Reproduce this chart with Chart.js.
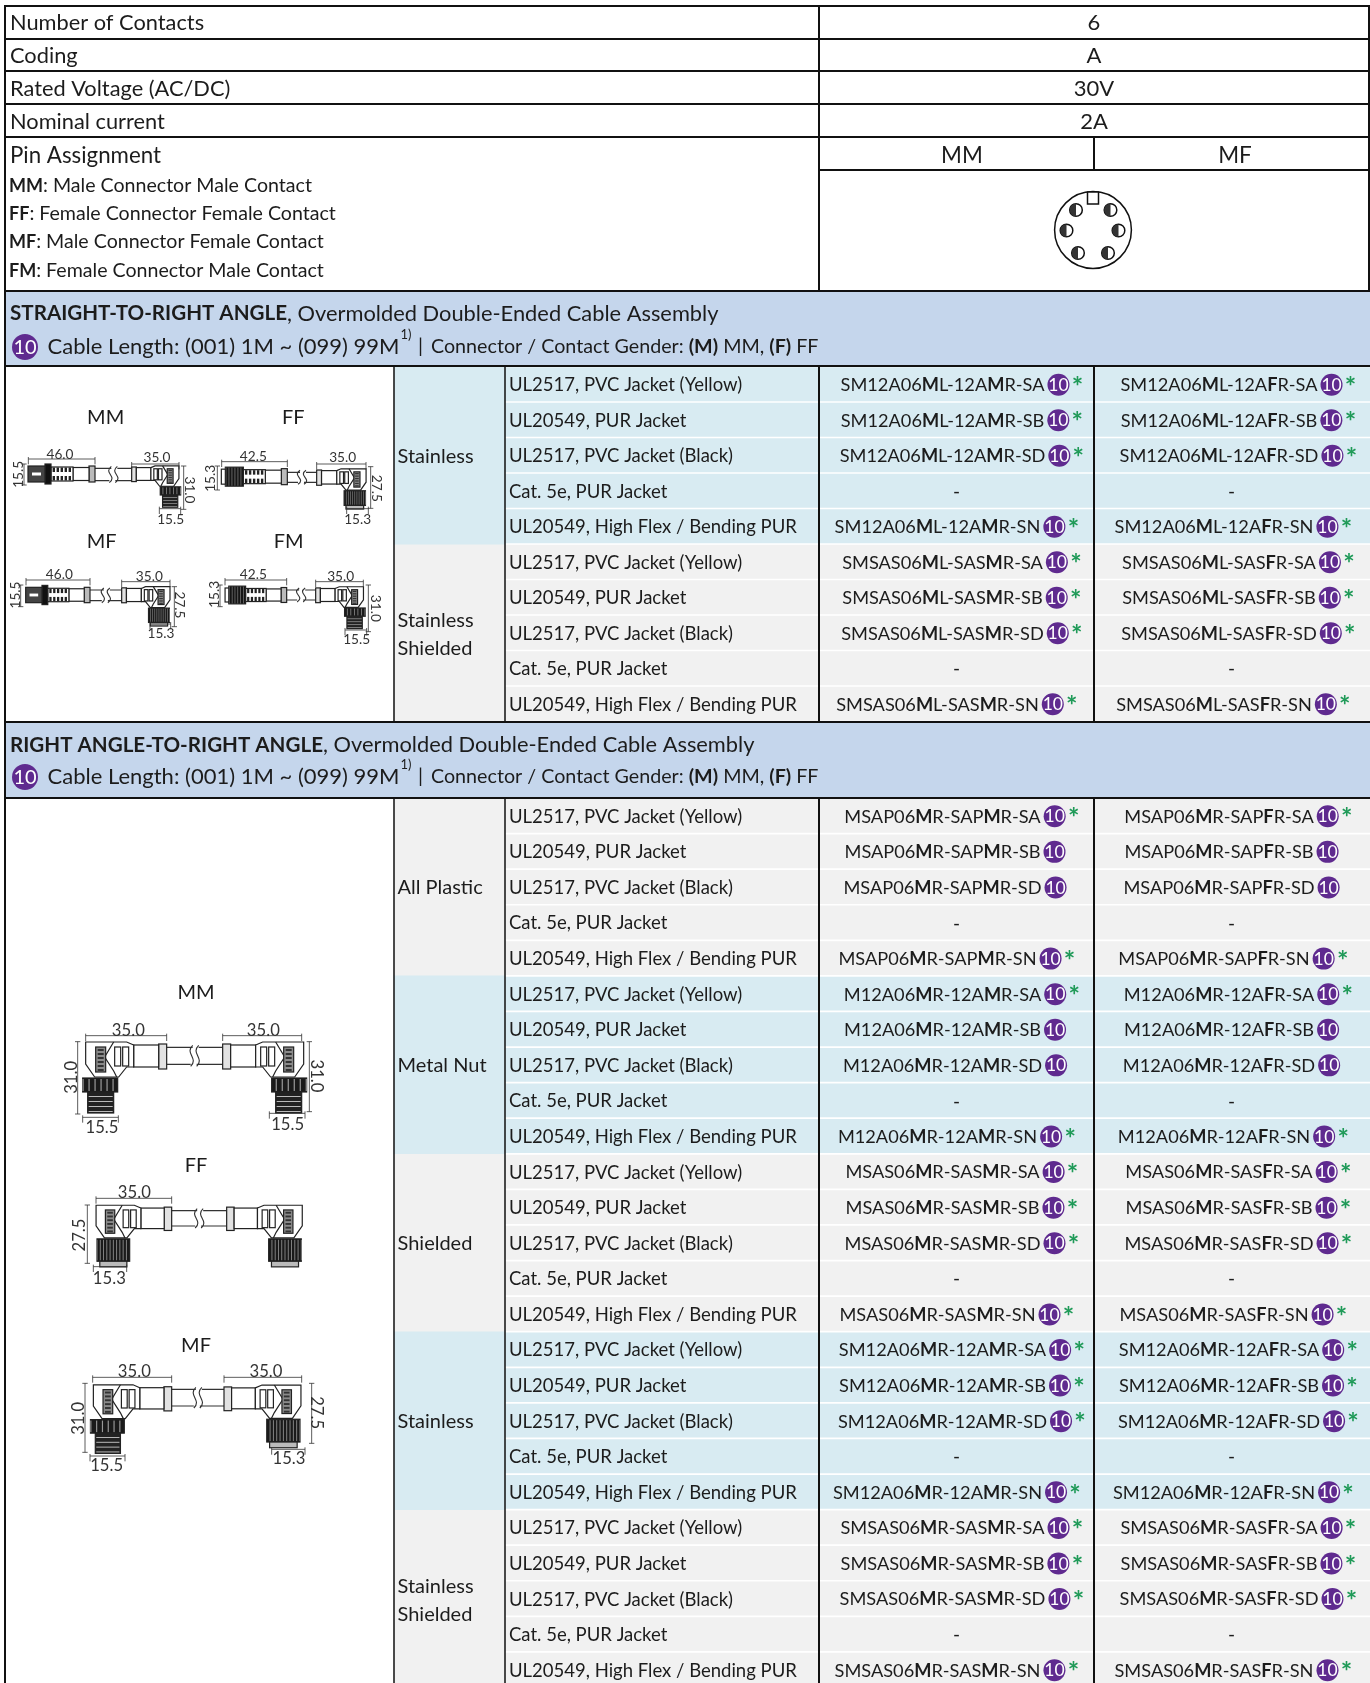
<!DOCTYPE html>
<html>
<head>
<meta charset="utf-8">
<title>Cable assembly table</title>
<script src="https://cdn.jsdelivr.net/npm/chart.js@4"></script>
<style>
html, body { margin: 0; padding: 0; background: #fff; }
canvas { display: block; }
</style>
</head>
<body>
<canvas id="tableChart" width="1370" height="1683"></canvas>
<script>
// table content, [x] marks bold, trailing * marks the green asterisk
const topLabels = ["Number of Contacts", "Coding", "Rated Voltage (AC/DC)", "Nominal current"];
const topValues = ["6", "A", "30V", "2A"];
const pinTitle = "Pin Assignment";
const pinColumns = ["MM", "MF"];
const genderLegend = [
    "[MM]: Male Connector Male Contact",
    "[FF]: Female Connector Female Contact",
    "[MF]: Male Connector Female Contact",
    "[FM]: Female Connector Male Contact"
];
const sectionTitles = [
    "[STRAIGHT-TO-RIGHT ANGLE], Overmolded Double-Ended Cable Assembly",
    "[RIGHT ANGLE-TO-RIGHT ANGLE], Overmolded Double-Ended Cable Assembly"
];
const cableNote = "Cable Length: (001) 1M ~ (099) 99M";
const genderNote = "Connector / Contact Gender: [(M)] MM, [(F)] FF";
const cableTypes = [
    "UL2517, PVC Jacket (Yellow)",
    "UL20549, PUR Jacket",
    "UL2517, PVC Jacket (Black)",
    "Cat. 5e, PUR Jacket",
    "UL20549, High Flex / Bending PUR"
];
const groupNames = [
    ["Stainless"], ["Stainless", "Shielded"],
    ["All Plastic"], ["Metal Nut"], ["Shielded"], ["Stainless"], ["Stainless", "Shielded"]
];
const codesMM = [
    "SM12A06[M]L-12A[M]R-SA*", "SM12A06[M]L-12A[M]R-SB*", "SM12A06[M]L-12A[M]R-SD*", "-", "SM12A06[M]L-12A[M]R-SN*",
    "SMSAS06[M]L-SAS[M]R-SA*", "SMSAS06[M]L-SAS[M]R-SB*", "SMSAS06[M]L-SAS[M]R-SD*", "-", "SMSAS06[M]L-SAS[M]R-SN*",
    "MSAP06[M]R-SAP[M]R-SA*", "MSAP06[M]R-SAP[M]R-SB", "MSAP06[M]R-SAP[M]R-SD", "-", "MSAP06[M]R-SAP[M]R-SN*",
    "M12A06[M]R-12A[M]R-SA*", "M12A06[M]R-12A[M]R-SB", "M12A06[M]R-12A[M]R-SD", "-", "M12A06[M]R-12A[M]R-SN*",
    "MSAS06[M]R-SAS[M]R-SA*", "MSAS06[M]R-SAS[M]R-SB*", "MSAS06[M]R-SAS[M]R-SD*", "-", "MSAS06[M]R-SAS[M]R-SN*",
    "SM12A06[M]R-12A[M]R-SA*", "SM12A06[M]R-12A[M]R-SB*", "SM12A06[M]R-12A[M]R-SD*", "-", "SM12A06[M]R-12A[M]R-SN*",
    "SMSAS06[M]R-SAS[M]R-SA*", "SMSAS06[M]R-SAS[M]R-SB*", "SMSAS06[M]R-SAS[M]R-SD*", "-", "SMSAS06[M]R-SAS[M]R-SN*"
];
const codesMF = [
    "SM12A06[M]L-12A[F]R-SA*", "SM12A06[M]L-12A[F]R-SB*", "SM12A06[M]L-12A[F]R-SD*", "-", "SM12A06[M]L-12A[F]R-SN*",
    "SMSAS06[M]L-SAS[F]R-SA*", "SMSAS06[M]L-SAS[F]R-SB*", "SMSAS06[M]L-SAS[F]R-SD*", "-", "SMSAS06[M]L-SAS[F]R-SN*",
    "MSAP06[M]R-SAP[F]R-SA*", "MSAP06[M]R-SAP[F]R-SB", "MSAP06[M]R-SAP[F]R-SD", "-", "MSAP06[M]R-SAP[F]R-SN*",
    "M12A06[M]R-12A[F]R-SA*", "M12A06[M]R-12A[F]R-SB", "M12A06[M]R-12A[F]R-SD", "-", "M12A06[M]R-12A[F]R-SN*",
    "MSAS06[M]R-SAS[F]R-SA*", "MSAS06[M]R-SAS[F]R-SB*", "MSAS06[M]R-SAS[F]R-SD*", "-", "MSAS06[M]R-SAS[F]R-SN*",
    "SM12A06[M]R-12A[F]R-SA*", "SM12A06[M]R-12A[F]R-SB*", "SM12A06[M]R-12A[F]R-SD*", "-", "SM12A06[M]R-12A[F]R-SN*",
    "SMSAS06[M]R-SAS[F]R-SA*", "SMSAS06[M]R-SAS[F]R-SB*", "SMSAS06[M]R-SAS[F]R-SD*", "-", "SMSAS06[M]R-SAS[F]R-SN*"
];

// layout, in scale units (one unit is one pixel here)
const ROW_H = 35.5, ROW_H2 = 35.58;
const SEC1_TOP = 366.5, SEC2_TOP = 798;
const COL = { left: 5, mat: 394, type: 505, mm: 819, mf: 1094, right: 1369 };
const topRowY = [23, 56, 89, 122];
const legendY = [186, 214, 242, 271];
const FONT = "Lato, Carlito, sans-serif";
const INK = "#1c1c1c";
const PURPLE = "#5f2a8f";
const GREEN = "#1f9a58";

function rowY(i) {
    return i < 10 ? SEC1_TOP + ROW_H * (i + 0.5) : SEC2_TOP + ROW_H2 * (i - 10 + 0.5);
}
function groupY(g) {
    return g < 2 ? SEC1_TOP + ROW_H * 5 * (g + 0.5) : SEC2_TOP + ROW_H2 * 5 * (g - 2 + 0.5);
}
// group backgrounds alternate: blue, gray / gray, blue, gray, blue, gray
const isBlueGroup = g => g === 0 || g === 3 || g === 5;

const blueRows = [], grayRows = [], blueGroups = [], grayGroups = [];
for (let i = 0; i < codesMM.length; i++) {
    const g = Math.floor(i / 5);
    (isBlueGroup(g) ? blueRows : grayRows).push({ x: [COL.type, COL.right + 1], y: rowY(i) });
}
groupNames.forEach((n, g) => {
    (isBlueGroup(g) ? blueGroups : grayGroups).push({ x: [COL.mat, COL.type], y: groupY(g) });
});

function segments(list) {
    const pts = [];
    list.forEach(s => {
        pts.push({ x: s[0], y: s[1] }, { x: s[2], y: s[3] }, { x: null, y: null });
    });
    return pts;
}
const heavyLines = segments([
    [COL.left, 6, COL.right, 6], [COL.left, 39, COL.right, 39], [COL.left, 71, COL.right, 71],
    [COL.left, 104, COL.right, 104], [COL.left, 137, COL.right, 137], [COL.mm, 170, COL.right, 170],
    [COL.left, 291, 1370, 291], [COL.left, 366, 1370, 366], [COL.left, 722, 1370, 722], [COL.left, 798, 1370, 798],
    [COL.left, 5, COL.left, 1683], [COL.right, 5, COL.right, 291], [COL.mm, 6, COL.mm, 291], [COL.mf, 137, COL.mf, 170],
    [COL.mm, 366, COL.mm, 722], [COL.mf, 366, COL.mf, 722], [COL.mm, 798, COL.mm, 1683], [COL.mf, 798, COL.mf, 1683]
]);
const thinLines = segments([
    [COL.mat, 366, COL.mat, 722], [COL.type, 366, COL.type, 722],
    [COL.mat, 798, COL.mat, 1683], [COL.type, 798, COL.type, 1683]
]);

// text helpers, bold runs can have their own size since Lato bold runs wide here
function richParts(str) {
    return str.split(/(\[.*?\])/).filter(Boolean).map(p =>
        p[0] === "[" ? { t: p.slice(1, -1), bold: true } : { t: p, bold: false });
}
function richWidth(c, str, size) {
    let w = 0;
    richParts(str).forEach(p => {
        c.font = (p.bold ? "bold " : "") + size + "px " + FONT;
        w += c.measureText(p.t).width;
    });
    return w;
}
function rich(c, str, x, y, size, boldSize) {
    c.textAlign = "left";
    c.textBaseline = "middle";
    c.fillStyle = INK;
    richParts(str).forEach(p => {
        c.font = p.bold ? "bold " + (boldSize || size) + "px " + FONT : size + "px " + FONT;
        c.fillText(p.t, x, y);
        x += c.measureText(p.t).width;
    });
    return x;
}
function centered(c, str, x, y, size) {
    c.font = size + "px " + FONT;
    c.textAlign = "center";
    c.textBaseline = "middle";
    c.fillStyle = INK;
    c.fillText(str, x, y);
}
function badge(c, x, y, r, size) {
    c.fillStyle = PURPLE;
    c.beginPath();
    c.arc(x, y, r, 0, Math.PI * 2);
    c.fill();
    c.font = size + "px " + FONT;
    c.textAlign = "center";
    c.textBaseline = "middle";
    c.fillStyle = "#fff";
    c.fillText("10", x, y + 0.5);
}
function codeCell(c, code, cx, y, shift) {
    if (code === "-") {
        centered(c, "-", cx, y, 19);
        return;
    }
    const star = code.endsWith("*");
    const text = star ? code.slice(0, -1) : code;
    const w = richWidth(c, text, 18.2);
    const x0 = cx + shift - (w + 26) / 2;
    rich(c, text, x0, y, 18.2);
    badge(c, x0 + w + 14, y - 0.5, 11, 17.5);
    if (star) {
        c.font = "bold 27px " + FONT;
        c.textAlign = "center";
        c.fillStyle = GREEN;
        c.fillText("*", x0 + w + 33, y + 2);
    }
}

// connector sketches, local units are sketch units scaled by s
function box(c, x0, y0, x1, y1, fill) {
    c.fillStyle = fill || "#fff";
    c.fillRect(x0, y0, x1 - x0, y1 - y0);
    c.strokeRect(x0, y0, x1 - x0, y1 - y0);
}
function rightAngle(c, ox, oy, s, dir, male) {
    c.save();
    c.translate(ox, oy);
    c.scale(s * dir, s);
    c.strokeStyle = "#222";
    c.lineWidth = 3.6 / s;
    box(c, 0, -12, 8, 13, "#e2e2e2");
    box(c, 8, -11, 33, 11);
    c.beginPath();
    c.moveTo(33, -11); c.lineTo(40, -14); c.lineTo(81, -14); c.lineTo(81, 8);
    c.lineTo(72, 21); c.lineTo(48, 21); c.lineTo(40, 11); c.lineTo(33, 11);
    c.closePath();
    c.fillStyle = "#fff";
    c.fill();
    c.stroke();
    box(c, 38, -9, 44, 10);
    box(c, 46, -9, 52, 10);
    c.beginPath();
    c.moveTo(53, -14); c.lineTo(62, 1); c.lineTo(53, 15); c.lineTo(50, 21);
    c.stroke();
    box(c, 61, -9, 71, 16, "#8a8a8a");
    c.fillStyle = "#333";
    for (let v = -7; v < 15; v += 4) c.fillRect(63, v, 6, 2);
    if (male) {
        box(c, 49, 22, 84, 36, "#1a1a1a");
        c.fillStyle = "#999";
        for (let u = 53; u < 84; u += 6) c.fillRect(u, 23, 1.2, 12);
        box(c, 53, 36, 79, 57, "#222");
        c.fillStyle = "#ccc";
        for (let v = 40; v < 56; v += 5) c.fillRect(54, v, 24, 0.9);
    } else {
        box(c, 45, 22, 80, 46, "#1a1a1a");
        c.fillStyle = "#888";
        for (let u = 48; u < 80; u += 3.5) c.fillRect(u, 23, 1, 22);
        box(c, 48, 46, 77, 52, "#bbb");
    }
    c.restore();
}
function straight(c, ox, oy, s, male) {
    c.save();
    c.translate(ox, oy);
    c.scale(-s, s);
    c.strokeStyle = "#222";
    c.lineWidth = 3.6 / s;
    box(c, 0, -8, 6, 8, "#bbb");
    box(c, 6, -6.5, 22, 6.5);
    box(c, 22, -7, 44, 7);
    c.fillStyle = "#222";
    for (let u = 24; u < 42; u += 4) {
        c.fillRect(u, -6.5, 2.4, 4.5);
        c.fillRect(u, 2, 2.4, 4.5);
    }
    if (male) {
        box(c, 44, -10, 50, 10, "#111");
        box(c, 50, -8, 67, 8, "#444");
        c.fillStyle = "#fff";
        c.fillRect(54, -1.5, 9, 3);
    } else {
        box(c, 44, -9.5, 62, 9.5, "#151515");
        c.fillStyle = "#777";
        for (let u = 46; u < 62; u += 3) c.fillRect(u, -9, 0.8, 18);
        box(c, 62, -7.5, 66, 7.5);
    }
    c.restore();
}
function cable(c, x0, x1, y0, y1) {
    const m = (x0 + x1) / 2, h = y1 - y0;
    c.strokeStyle = "#333";
    c.lineWidth = 3.4;
    c.beginPath();
    c.moveTo(x0, y0); c.lineTo(m - 6, y0);
    c.moveTo(m + 12, y0); c.lineTo(x1, y0);
    c.moveTo(x0, y1); c.lineTo(m - 12, y1);
    c.moveTo(m + 6, y1); c.lineTo(x1, y1);
    // the break mark on the cable
    [-9, 9].forEach(d => {
        c.moveTo(m + d + 3, y0 - 6);
        c.bezierCurveTo(m + d - 22, y0 + h * 0.35, m + d + 22, y0 + h * 0.65, m + d - 3, y1 + 6);
    });
    c.stroke();
}
function dimH(c, x0, x1, y, label, size, lx, ly) {
    c.strokeStyle = "#333";
    c.lineWidth = 2.4;
    c.beginPath();
    c.moveTo(x0, y - 6); c.lineTo(x0, y + 16);
    c.moveTo(x1, y - 6); c.lineTo(x1, y + 16);
    c.moveTo(x0, y); c.lineTo(x1, y);
    c.stroke();
    c.font = size + "px " + FONT;
    c.textAlign = "center";
    c.textBaseline = "middle";
    c.fillStyle = "#333";
    c.fillText(label, lx, ly);
}
function dimV(c, x, y0, y1, label, size, lx, ly, rot) {
    c.strokeStyle = "#333";
    c.lineWidth = 2.4;
    c.beginPath();
    c.moveTo(x - 8, y0); c.lineTo(x + 8, y0);
    c.moveTo(x - 8, y1); c.lineTo(x + 8, y1);
    c.moveTo(x, y0); c.lineTo(x, y1);
    c.stroke();
    c.save();
    c.translate(lx, ly);
    c.rotate(rot * Math.PI / 2);
    c.font = size + "px " + FONT;
    c.textAlign = "center";
    c.textBaseline = "middle";
    c.fillStyle = "#333";
    c.fillText(label, 0, 0);
    c.restore();
}

function drawSketches(c) {
    // upper section, coordinates are 3x pixels
    c.save();
    c.translate(0, 360);
    c.scale(1 / 3, 1 / 3);
    centered(c, "MM", 317, 172, 60);
    centered(c, "FF", 880, 172, 60);
    centered(c, "MF", 305, 545, 60);
    centered(c, "FM", 866, 545, 60);

    cable(c, 285, 395, 325, 362);
    straight(c, 285, 342, 3, true);
    rightAngle(c, 395, 342, 1.75, 1, true);
    dimH(c, 85, 285, 297, "46.0", 41, 180, 284);
    dimV(c, 72, 312, 375, "15.5", 41, 55, 343, -1);
    dimH(c, 395, 537, 312, "35.0", 41, 471, 293);
    dimV(c, 551, 318, 448, "31.0", 41, 567, 390, 1);
    dimH(c, 478, 542, 446, "15.5", 41, 512, 478);

    cable(c, 862, 950, 337, 367);
    straight(c, 862, 350, 3, false);
    rightAngle(c, 950, 352, 1.83, 1, false);
    dimH(c, 665, 862, 305, "42.5", 41, 760, 291);
    dimV(c, 652, 318, 390, "15.3", 41, 632, 355, -1);
    dimH(c, 950, 1098, 312, "35.0", 41, 1028, 294);
    dimV(c, 1112, 320, 445, "27.5", 41, 1130, 385, 1);
    dimH(c, 1040, 1105, 446, "15.3", 41, 1073, 478);

    cable(c, 270, 365, 690, 722);
    straight(c, 270, 705, 2.88, true);
    rightAngle(c, 365, 705, 1.79, 1, false);
    dimH(c, 78, 270, 660, "46.0", 41, 178, 645);
    dimV(c, 62, 675, 740, "15.5", 41, 48, 705, -1);
    dimH(c, 365, 510, 665, "35.0", 41, 448, 650);
    dimV(c, 523, 680, 800, "27.5", 41, 538, 735, 1);
    dimH(c, 450, 512, 792, "15.3", 41, 483, 822);

    cable(c, 860, 947, 690, 720);
    straight(c, 860, 705, 2.8, false);
    rightAngle(c, 947, 705, 1.77, 1, true);
    dimH(c, 675, 860, 660, "42.5", 41, 760, 645);
    dimV(c, 660, 675, 740, "15.3", 41, 645, 703, -1);
    dimH(c, 947, 1090, 665, "35.0", 41, 1022, 650);
    dimV(c, 1105, 675, 815, "31.0", 41, 1125, 745, 1);
    dimH(c, 1035, 1100, 810, "15.5", 41, 1070, 838);
    c.restore();

    // lower section
    c.save();
    c.translate(30, 970);
    c.scale(1 / 3, 1 / 3);
    centered(c, "MM", 498, 67, 60);
    centered(c, "FF", 498, 587, 60);
    centered(c, "MF", 498, 1127, 60);

    cable(c, 410, 578, 232, 283);
    rightAngle(c, 410, 258, 3, -1, true);
    rightAngle(c, 578, 258, 3, 1, true);
    dimH(c, 167, 410, 197, "35.0", 50, 295, 182);
    dimH(c, 578, 815, 197, "35.0", 50, 700, 182);
    dimV(c, 143, 215, 432, "31.0", 50, 125, 322, -1);
    dimV(c, 838, 215, 425, "31.0", 50, 858, 318, 1);
    dimH(c, 158, 265, 442, "15.5", 50, 216, 472);
    dimH(c, 718, 825, 430, "15.5", 50, 773, 465);

    cable(c, 425, 590, 722, 768);
    rightAngle(c, 425, 745, 2.8, -1, false);
    rightAngle(c, 590, 745, 2.8, 1, false);
    dimH(c, 198, 425, 685, "35.0", 50, 313, 667);
    dimV(c, 172, 705, 880, "27.5", 50, 150, 795, -1);
    dimH(c, 190, 290, 890, "15.3", 50, 238, 927);

    cable(c, 425, 582, 1258, 1308);
    rightAngle(c, 425, 1285, 2.9, -1, true);
    rightAngle(c, 582, 1285, 2.85, 1, false);
    dimH(c, 188, 425, 1222, "35.0", 50, 313, 1205);
    dimH(c, 582, 815, 1222, "35.0", 50, 708, 1205);
    dimV(c, 165, 1240, 1447, "31.0", 50, 147, 1345, -1);
    dimV(c, 845, 1240, 1420, "27.5", 50, 860, 1328, 1);
    dimH(c, 180, 285, 1458, "15.5", 50, 230, 1488);
    dimH(c, 725, 825, 1438, "15.3", 50, 777, 1467);
    c.restore();
}

function drawPinFace(c) {
    const cx = 1093, cy = 230;
    c.strokeStyle = "#111";
    c.lineWidth = 1.5;
    c.beginPath();
    c.arc(cx, cy, 38.4, 0, Math.PI * 2);
    c.stroke();
    c.fillStyle = "#fff";
    c.fillRect(cx - 5.5, cy - 38, 11, 12);
    c.strokeRect(cx - 5.5, cy - 38, 11, 12);
    [[-17, -20], [17.5, -20], [-26.5, 0.5], [25.5, 0.5], [-15, 23], [15, 23]].forEach(p => {
        c.beginPath();
        c.arc(cx + p[0], cy + p[1], 6.3, 0, Math.PI * 2);
        c.fillStyle = "#fff";
        c.fill();
        c.stroke();
        c.beginPath();
        c.arc(cx + p[0], cy + p[1], 6.3, Math.PI / 2, Math.PI * 1.5);
        c.fillStyle = "#333";
        c.fill();
    });
}

const tableText = {
    id: "tableText",
    afterDatasetsDraw(chart) {
        const c = chart.ctx;
        c.save();
        topLabels.forEach((t, i) => {
            rich(c, t, 10, topRowY[i], 21.8);
            centered(c, topValues[i], 1094, topRowY[i], 22);
        });
        rich(c, pinTitle, 10, 155.5, 22.3);
        centered(c, pinColumns[0], 962, 155.5, 22.5);
        centered(c, pinColumns[1], 1235, 155.5, 22.5);
        genderLegend.forEach((t, i) => rich(c, t, 9, legendY[i], 19.6, 18));

        [[313.5, 347], [745, 777]].forEach((ys, s) => {
            rich(c, sectionTitles[s], 10, ys[0], 21.85, 20.6);
            badge(c, 25, ys[1], 13, 20);
            const end = rich(c, cableNote, 47.5, ys[1], 22);
            c.font = "13px " + FONT;
            c.fillStyle = INK;
            c.textAlign = "left";
            c.fillText("1)", end + 1, ys[1] - 12);
            rich(c, "|", 418, ys[1], 20);
            rich(c, genderNote, 431, ys[1], 19.7);
        });

        groupNames.forEach((lines, g) => {
            const y = groupY(g) + 1;
            if (lines.length === 1) {
                rich(c, lines[0], 397.5, y, 20);
            } else {
                rich(c, lines[0], 397.5, y - 13, 20);
                rich(c, lines[1], 397.5, y + 15, 20);
            }
        });

        codesMM.forEach((code, i) => {
            const y = rowY(i) + 1;
            const shift = i % 5 === 4 ? -6 : -1;
            rich(c, cableTypes[i % 5], 509, y, 18.5);
            codeCell(c, code, (COL.mm + COL.mf) / 2, y, shift);
            codeCell(c, codesMF[i], (COL.mf + COL.right) / 2, y, shift + 1.5);
        });

        drawPinFace(c);
        drawSketches(c);
        c.restore();
    }
};

new Chart(document.getElementById("tableChart").getContext("2d"), {
    type: "bar",
    data: {
        datasets: [
            { data: [{ x: [COL.left, 1370], y: 328.5 }, { x: [COL.left, 1370], y: 760 }], backgroundColor: "#c5d6ec", barThickness: 75, grouped: false, order: 3 },
            { data: blueGroups, backgroundColor: "#d8ebf2", barThickness: 177.8, grouped: false, order: 3 },
            { data: grayGroups, backgroundColor: "#f1f1f1", barThickness: 177.8, grouped: false, order: 3 },
            { data: blueRows, backgroundColor: "#d8ebf2", barThickness: 33.2, grouped: false, order: 2 },
            { data: grayRows, backgroundColor: "#f1f1f1", barThickness: 33.2, grouped: false, order: 2 },
            { type: "line", data: thinLines, borderColor: "#111", borderWidth: 1.5, pointRadius: 0, spanGaps: false, order: 1 },
            { type: "line", data: heavyLines, borderColor: "#111", borderWidth: 2, pointRadius: 0, spanGaps: false, order: 0 }
        ]
    },
    options: {
        indexAxis: "y",
        responsive: false,
        animation: false,
        events: [],
        layout: { padding: 0 },
        plugins: { legend: { display: false }, tooltip: { enabled: false } },
        scales: {
            x: { type: "linear", min: 0, max: 1370, display: false },
            y: { type: "linear", min: 0, max: 1683, reverse: true, offset: false, display: false }
        }
    },
    plugins: [tableText]
});
</script>
</body>
</html>
